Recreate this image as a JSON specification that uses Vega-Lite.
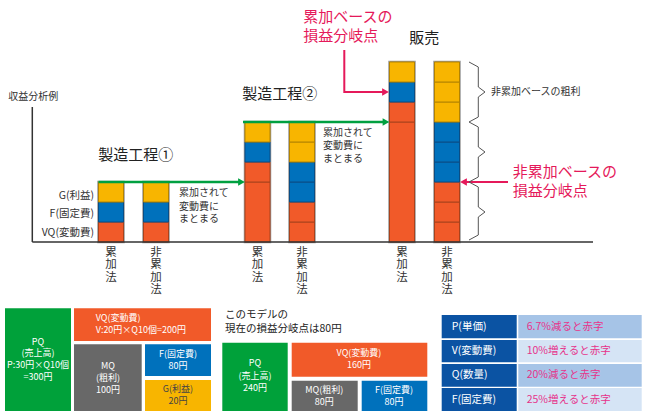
{
  "$schema": "https://vega.github.io/schema/vega-lite/v6.json",
  "width": 650,
  "height": 415,
  "padding": 0,
  "autosize": {"type": "fit", "contains": "padding"},
  "background": "white",
  "config": {"view": {"stroke": null}, "font": "Noto Sans CJK JP"},
  "datasets": {
    "bars": [
      {"bar": "工程1累加", "x": 9.85, "x2": 12.35, "y": 0, "y2": 3},
      {"bar": "工程1非累加", "x": 14.35, "x2": 16.85, "y": 0, "y2": 3},
      {"bar": "工程2累加", "x": 24.5, "x2": 27.0, "y": 0, "y2": 6},
      {"bar": "工程2非累加", "x": 28.95, "x2": 31.45, "y": 0, "y2": 6},
      {"bar": "販売累加", "x": 38.95, "x2": 41.45, "y": 0, "y2": 9},
      {"bar": "販売非累加", "x": 43.45, "x2": 45.95, "y": 0, "y2": 9}
    ],
    "segments": [
      {"bar": "工程1累加", "x": 9.85, "x2": 12.35, "y": 0, "y2": 1, "part": "VQ"},
      {"bar": "工程1累加", "x": 9.85, "x2": 12.35, "y": 1, "y2": 2, "part": "F"},
      {"bar": "工程1累加", "x": 9.85, "x2": 12.35, "y": 2, "y2": 3, "part": "G"},
      {"bar": "工程1非累加", "x": 14.35, "x2": 16.85, "y": 0, "y2": 1, "part": "VQ"},
      {"bar": "工程1非累加", "x": 14.35, "x2": 16.85, "y": 1, "y2": 2, "part": "F"},
      {"bar": "工程1非累加", "x": 14.35, "x2": 16.85, "y": 2, "y2": 3, "part": "G"},
      {"bar": "工程2累加", "x": 24.5, "x2": 27.0, "y": 0, "y2": 3, "part": "VQ"},
      {"bar": "工程2累加", "x": 24.5, "x2": 27.0, "y": 3, "y2": 4, "part": "VQ"},
      {"bar": "工程2累加", "x": 24.5, "x2": 27.0, "y": 4, "y2": 5, "part": "F"},
      {"bar": "工程2累加", "x": 24.5, "x2": 27.0, "y": 5, "y2": 6, "part": "G"},
      {"bar": "工程2非累加", "x": 28.95, "x2": 31.45, "y": 0, "y2": 1, "part": "VQ"},
      {"bar": "工程2非累加", "x": 28.95, "x2": 31.45, "y": 1, "y2": 2, "part": "VQ"},
      {"bar": "工程2非累加", "x": 28.95, "x2": 31.45, "y": 2, "y2": 3, "part": "F"},
      {"bar": "工程2非累加", "x": 28.95, "x2": 31.45, "y": 3, "y2": 4, "part": "F"},
      {"bar": "工程2非累加", "x": 28.95, "x2": 31.45, "y": 4, "y2": 5, "part": "G"},
      {"bar": "工程2非累加", "x": 28.95, "x2": 31.45, "y": 5, "y2": 6, "part": "G"},
      {"bar": "販売累加", "x": 38.95, "x2": 41.45, "y": 0, "y2": 6, "part": "VQ"},
      {"bar": "販売累加", "x": 38.95, "x2": 41.45, "y": 6, "y2": 7, "part": "VQ"},
      {"bar": "販売累加", "x": 38.95, "x2": 41.45, "y": 7, "y2": 8, "part": "F"},
      {"bar": "販売累加", "x": 38.95, "x2": 41.45, "y": 8, "y2": 9, "part": "G"},
      {"bar": "販売非累加", "x": 43.45, "x2": 45.95, "y": 0, "y2": 1, "part": "VQ"},
      {"bar": "販売非累加", "x": 43.45, "x2": 45.95, "y": 1, "y2": 2, "part": "VQ"},
      {"bar": "販売非累加", "x": 43.45, "x2": 45.95, "y": 2, "y2": 3, "part": "VQ"},
      {"bar": "販売非累加", "x": 43.45, "x2": 45.95, "y": 3, "y2": 4, "part": "F"},
      {"bar": "販売非累加", "x": 43.45, "x2": 45.95, "y": 4, "y2": 5, "part": "F"},
      {"bar": "販売非累加", "x": 43.45, "x2": 45.95, "y": 5, "y2": 6, "part": "F"},
      {"bar": "販売非累加", "x": 43.45, "x2": 45.95, "y": 6, "y2": 7, "part": "G"},
      {"bar": "販売非累加", "x": 43.45, "x2": 45.95, "y": 7, "y2": 8, "part": "G"},
      {"bar": "販売非累加", "x": 43.45, "x2": 45.95, "y": 8, "y2": 9, "part": "G"}
    ],
    "boxes": [
      {"x": 0.5, "x2": 7.1, "y": -3.315, "y2": -8.45, "part": "PQ"},
      {"x": 7.4, "x2": 21.1, "y": -3.315, "y2": -4.95, "part": "VQ"},
      {"x": 7.4, "x2": 14.17, "y": -5.115, "y2": -8.45, "part": "MQ"},
      {"x": 14.5, "x2": 21.1, "y": -5.115, "y2": -6.7, "part": "F"},
      {"x": 14.5, "x2": 21.1, "y": -6.9, "y2": -8.45, "part": "G"},
      {"x": 22.23, "x2": 28.77, "y": -5.035, "y2": -8.45, "part": "PQ"},
      {"x": 29.17, "x2": 42.73, "y": -5.035, "y2": -6.735, "part": "VQ"},
      {"x": 29.17, "x2": 35.77, "y": -6.935, "y2": -8.45, "part": "MQ"},
      {"x": 36.17, "x2": 42.73, "y": -6.935, "y2": -8.45, "part": "F"},
      {"x": 44.17, "x2": 51.67, "y": -3.65, "y2": -4.815, "part": "head"},
      {"x": 44.17, "x2": 51.67, "y": -4.9, "y2": -6.015, "part": "head"},
      {"x": 44.17, "x2": 51.67, "y": -6.1, "y2": -7.235, "part": "head"},
      {"x": 44.17, "x2": 51.67, "y": -7.3, "y2": -8.45, "part": "head"},
      {"x": 51.83, "x2": 64.17, "y": -3.65, "y2": -4.815, "part": "rowA"},
      {"x": 51.83, "x2": 64.17, "y": -4.9, "y2": -6.015, "part": "rowB"},
      {"x": 51.83, "x2": 64.17, "y": -6.1, "y2": -7.235, "part": "rowA"},
      {"x": 51.83, "x2": 64.17, "y": -7.3, "y2": -8.45, "part": "rowB"}
    ],
    "axes": [
      {"x": 3.23, "x2": 59.3, "y": 0, "y2": 0},
      {"x": 3.23, "x2": 3.23, "y": 0, "y2": 6.75}
    ],
    "greenArrows": [
      {"id": "g1", "i": 0, "x": 9.85, "y": 3.0},
      {"id": "g1", "i": 1, "x": 24.1, "y": 3.0},
      {"id": "g2", "i": 0, "x": 24.3, "y": 6.0},
      {"id": "g2", "i": 1, "x": 38.55, "y": 6.0}
    ],
    "redArrows": [
      {"id": "r1", "i": 0, "x": 34.43, "y": 9.6},
      {"id": "r1", "i": 1, "x": 34.43, "y": 7.5},
      {"id": "r1", "i": 2, "x": 38.5, "y": 7.5},
      {"id": "r2", "i": 0, "x": 50.8, "y": 3.0},
      {"id": "r2", "i": 1, "x": 46.4, "y": 3.0}
    ],
    "greenHeads": [
      {"x": 24.15, "y": 3.0, "dir": "right"},
      {"x": 38.6, "y": 6.0, "dir": "right"}
    ],
    "redHeads": [
      {"x": 38.55, "y": 7.5, "dir": "right"},
      {"x": 46.35, "y": 3.0, "dir": "left"}
    ],
    "brace": [
      {"i": 1, "x": 46.9, "y": 9.0},
      {"i": 2, "x": 47.83, "y": 8.75},
      {"i": 3, "x": 47.83, "y": 7.75},
      {"i": 4, "x": 48.5, "y": 7.5},
      {"i": 5, "x": 47.83, "y": 7.25},
      {"i": 6, "x": 47.83, "y": 6.25},
      {"i": 7, "x": 46.9, "y": 6.0},
      {"i": 8, "x": 47.83, "y": 5.75},
      {"i": 9, "x": 47.83, "y": 4.75},
      {"i": 10, "x": 48.5, "y": 4.5},
      {"i": 11, "x": 47.83, "y": 4.25},
      {"i": 12, "x": 47.83, "y": 3.25},
      {"i": 13, "x": 46.9, "y": 3.0},
      {"i": 14, "x": 47.83, "y": 2.75},
      {"i": 15, "x": 47.83, "y": 1.75},
      {"i": 16, "x": 48.5, "y": 1.5},
      {"i": 17, "x": 47.83, "y": 1.25},
      {"i": 18, "x": 47.83, "y": 0.35},
      {"i": 19, "x": 46.9, "y": 0.1}
    ],
    "titles": [
      {"x": 9.83, "y": 4.375, "text": "製造工程①"},
      {"x": 24.23, "y": 7.4, "text": "製造工程②"},
      {"x": 40.93, "y": 10.185, "text": "販売"}
    ],
    "redLabels": [
      {"x": 30.33, "y": 11.275, "text": "累加ベースの"},
      {"x": 30.33, "y": 10.3, "text": "損益分岐点"},
      {"x": 51.27, "y": 3.525, "text": "非累加ベースの"},
      {"x": 51.27, "y": 2.575, "text": "損益分岐点"}
    ],
    "notes": [
      {"x": 0.83, "y": 7.25, "text": "収益分析例"},
      {"x": 17.9, "y": 2.435, "text": "累加されて"},
      {"x": 17.9, "y": 1.765, "text": "変動費に"},
      {"x": 17.9, "y": 1.14, "text": "まとまる"},
      {"x": 32.3, "y": 5.475, "text": "累加されて"},
      {"x": 32.3, "y": 4.81, "text": "変動費に"},
      {"x": 32.3, "y": 4.14, "text": "まとまる"},
      {"x": 49.1, "y": 7.5, "text": "非累加ベースの粗利"}
    ],
    "sideLabels": [
      {"x": 9.4, "y": 2.31, "text": "G(利益)"},
      {"x": 9.4, "y": 1.41, "text": "F(固定費)"},
      {"x": 9.4, "y": 0.46, "text": "VQ(変動費)"}
    ],
    "barLabels": [
      {"x": 11.1, "y": -0.24, "text": "累\n加\n法"},
      {"x": 15.6, "y": -0.24, "text": "非\n累\n加\n法"},
      {"x": 25.75, "y": -0.24, "text": "累\n加\n法"},
      {"x": 30.2, "y": -0.24, "text": "非\n累\n加\n法"},
      {"x": 40.2, "y": -0.24, "text": "累\n加\n法"},
      {"x": 44.7, "y": -0.24, "text": "非\n累\n加\n法"}
    ],
    "boxTextCenter": [
      {"x": 3.8, "y": -4.985, "text": "PQ"},
      {"x": 3.8, "y": -5.55, "text": "(売上高)"},
      {"x": 3.8, "y": -6.15, "text": "P:30円×Q10個"},
      {"x": 3.8, "y": -6.75, "text": "=300円"},
      {"x": 10.8, "y": -6.2, "text": "MQ"},
      {"x": 10.8, "y": -6.8, "text": "(粗利)"},
      {"x": 10.8, "y": -7.4, "text": "100円"},
      {"x": 17.8, "y": -5.615, "text": "F(固定費)"},
      {"x": 17.8, "y": -6.185, "text": "80円"},
      {"x": 25.5, "y": -6.05, "text": "PQ"},
      {"x": 25.5, "y": -6.7, "text": "(売上高)"},
      {"x": 25.5, "y": -7.3, "text": "240円"},
      {"x": 35.9, "y": -5.55, "text": "VQ(変動費)"},
      {"x": 35.9, "y": -6.15, "text": "160円"},
      {"x": 32.43, "y": -7.4, "text": "MQ(粗利)"},
      {"x": 32.43, "y": -7.985, "text": "80円"},
      {"x": 39.4, "y": -7.4, "text": "F(固定費)"},
      {"x": 39.4, "y": -7.985, "text": "80円"}
    ],
    "boxTextLeft": [
      {"x": 9.57, "y": -3.815, "text": "VQ(変動費)"},
      {"x": 9.57, "y": -4.4, "text": "V:20円×Q10個=200円"}
    ],
    "boxTextDark": [
      {"x": 17.8, "y": -7.37, "text": "G(利益)"},
      {"x": 17.8, "y": -7.93, "text": "20円"}
    ],
    "panelTitle": [
      {"x": 22.5, "y": -3.65, "text": "このモデルの"},
      {"x": 22.5, "y": -4.365, "text": "現在の損益分岐点は80円"}
    ],
    "tableLeft": [
      {"x": 45.17, "y": -4.235, "text": "P(単価)"},
      {"x": 45.17, "y": -5.46, "text": "V(変動費)"},
      {"x": 45.17, "y": -6.665, "text": "Q(数量)"},
      {"x": 45.17, "y": -7.875, "text": "F(固定費)"}
    ],
    "tableRight": [
      {"x": 52.67, "y": -4.235, "text": "6.7%減ると赤字"},
      {"x": 52.67, "y": -5.46, "text": "10%増えると赤字"},
      {"x": 52.67, "y": -6.665, "text": "20%減ると赤字"},
      {"x": 52.67, "y": -7.875, "text": "25%増えると赤字"}
    ]
  },
  "encoding": {
    "x": {"field": "x", "type": "quantitative", "scale": {"domain": [0, 65], "nice": false, "zero": false}, "axis": null},
    "y": {"field": "y", "type": "quantitative", "scale": {"domain": [-8.65, 12.1], "nice": false, "zero": false}, "axis": null}
  },
  "layer": [
    {
      "data": {"name": "bars"},
      "mark": {"type": "rect", "fillOpacity": 0, "stroke": "#9a9a9a", "strokeWidth": 2.5},
      "encoding": {"x2": {"field": "x2"}, "y2": {"field": "y2"}}
    },
    {
      "data": {"name": "segments"},
      "mark": {"type": "rect", "strokeWidth": 1},
      "encoding": {
        "x2": {"field": "x2"},
        "y2": {"field": "y2"},
        "fill": {"field": "part", "type": "nominal", "legend": null,
          "scale": {"domain": ["VQ", "F", "G", "PQ", "MQ", "head", "rowA", "rowB"],
                    "range": ["#f15a29", "#0071bc", "#f8b500", "#00a13a", "#686868", "#0b53a3", "#a6c4e7", "#d5e4f5"]}},
        "stroke": {"field": "part", "type": "nominal", "legend": null,
          "scale": {"domain": ["VQ", "F", "G"], "range": ["#a8421c", "#0a4d85", "#b38300"]}}
      }
    },
    {
      "data": {"name": "boxes"},
      "mark": {"type": "rect"},
      "encoding": {
        "x2": {"field": "x2"},
        "y2": {"field": "y2"},
        "fill": {"field": "part", "type": "nominal", "legend": null,
          "scale": {"domain": ["VQ", "F", "G", "PQ", "MQ", "head", "rowA", "rowB"],
                    "range": ["#f15a29", "#0071bc", "#f8b500", "#00a13a", "#686868", "#0b53a3", "#a6c4e7", "#d5e4f5"]}}
      }
    },
    {
      "data": {"name": "axes"},
      "mark": {"type": "rule", "color": "#333333", "strokeWidth": 1.5},
      "encoding": {"x2": {"field": "x2"}, "y2": {"field": "y2"}}
    },
    {
      "data": {"name": "greenArrows"},
      "mark": {"type": "line", "color": "#00a040", "strokeWidth": 2.5},
      "encoding": {"detail": {"field": "id"}, "order": {"field": "i"}}
    },
    {
      "data": {"name": "greenHeads"},
      "mark": {"type": "point", "filled": true, "opacity": 1, "color": "#00a040", "size": 60},
      "encoding": {"shape": {"field": "dir", "type": "nominal", "legend": null,
        "scale": {"domain": ["right", "left"], "range": ["triangle-right", "triangle-left"]}}}
    },
    {
      "data": {"name": "redArrows"},
      "mark": {"type": "line", "color": "#e5195a", "strokeWidth": 2},
      "encoding": {"detail": {"field": "id"}, "order": {"field": "i"}}
    },
    {
      "data": {"name": "redHeads"},
      "mark": {"type": "point", "filled": true, "opacity": 1, "color": "#e5195a", "size": 60},
      "encoding": {"shape": {"field": "dir", "type": "nominal", "legend": null,
        "scale": {"domain": ["right", "left"], "range": ["triangle-right", "triangle-left"]}}}
    },
    {
      "data": {"name": "brace"},
      "mark": {"type": "line", "color": "#555555", "strokeWidth": 1},
      "encoding": {"order": {"field": "i"}}
    },
    {
      "data": {"name": "titles"},
      "mark": {"type": "text", "align": "left", "baseline": "middle", "fontSize": 15, "color": "#222222", "font": "Noto Sans CJK JP"},
      "encoding": {"text": {"field": "text"}}
    },
    {
      "data": {"name": "redLabels"},
      "mark": {"type": "text", "align": "left", "baseline": "middle", "fontSize": 15, "color": "#e5195a", "font": "Noto Sans CJK JP"},
      "encoding": {"text": {"field": "text"}}
    },
    {
      "data": {"name": "notes"},
      "mark": {"type": "text", "align": "left", "baseline": "middle", "fontSize": 10, "color": "#333333", "font": "Noto Sans CJK JP"},
      "encoding": {"text": {"field": "text"}}
    },
    {
      "data": {"name": "sideLabels"},
      "mark": {"type": "text", "align": "right", "baseline": "middle", "fontSize": 10.5, "color": "#333333", "font": "Noto Sans CJK JP"},
      "encoding": {"text": {"field": "text"}}
    },
    {
      "data": {"name": "barLabels"},
      "mark": {"type": "text", "align": "center", "baseline": "top", "fontSize": 11.5, "lineHeight": 12.5, "lineBreak": "\n", "color": "#333333", "font": "Noto Sans CJK JP"},
      "encoding": {"text": {"field": "text"}}
    },
    {
      "data": {"name": "boxTextCenter"},
      "mark": {"type": "text", "align": "center", "baseline": "middle", "fontSize": 9, "color": "#ffffff", "font": "Noto Sans CJK JP"},
      "encoding": {"text": {"field": "text"}}
    },
    {
      "data": {"name": "boxTextLeft"},
      "mark": {"type": "text", "align": "left", "baseline": "middle", "fontSize": 9, "color": "#ffffff", "font": "Noto Sans CJK JP"},
      "encoding": {"text": {"field": "text"}}
    },
    {
      "data": {"name": "boxTextDark"},
      "mark": {"type": "text", "align": "center", "baseline": "middle", "fontSize": 9, "color": "#444444", "font": "Noto Sans CJK JP"},
      "encoding": {"text": {"field": "text"}}
    },
    {
      "data": {"name": "panelTitle"},
      "mark": {"type": "text", "align": "left", "baseline": "middle", "fontSize": 10.5, "color": "#222222", "font": "Noto Sans CJK JP"},
      "encoding": {"text": {"field": "text"}}
    },
    {
      "data": {"name": "tableLeft"},
      "mark": {"type": "text", "align": "left", "baseline": "middle", "fontSize": 10.5, "color": "#ffffff", "font": "Noto Sans CJK JP"},
      "encoding": {"text": {"field": "text"}}
    },
    {
      "data": {"name": "tableRight"},
      "mark": {"type": "text", "align": "left", "baseline": "middle", "fontSize": 10.5, "color": "#e6338a", "font": "Noto Sans CJK JP"},
      "encoding": {"text": {"field": "text"}}
    }
  ]
}
